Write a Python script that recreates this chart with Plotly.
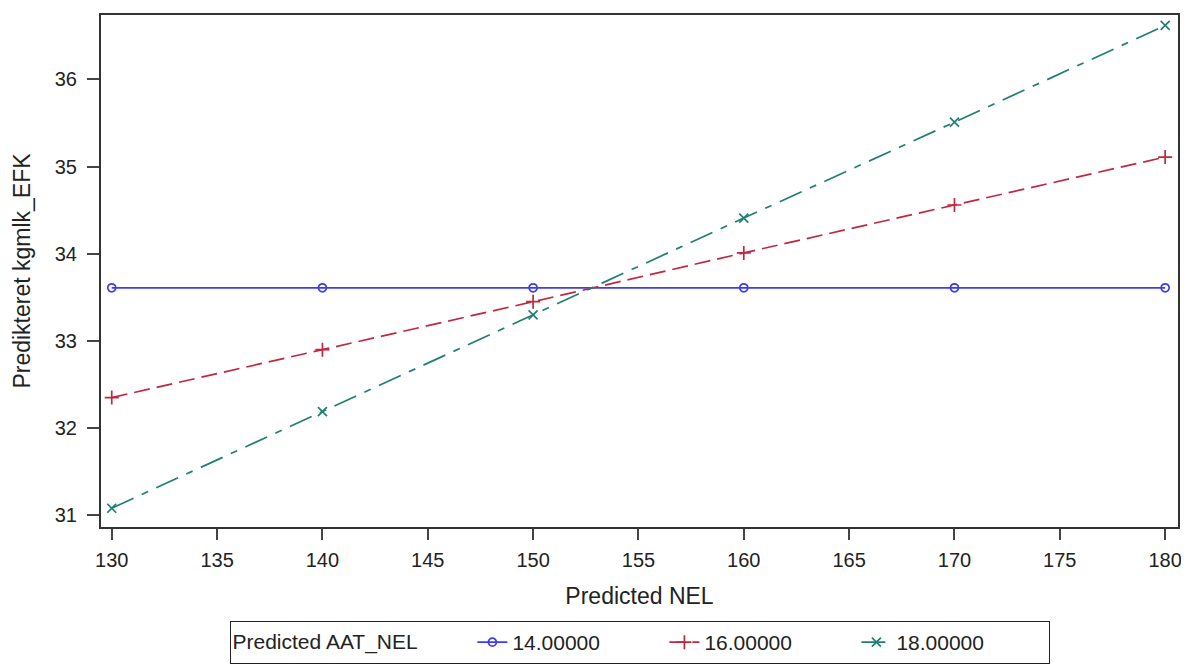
import plotly.graph_objects as go

nel = [130, 140, 150, 160, 170, 180]
aat_levels = ["14.00000", "16.00000", "18.00000"]
y_14 = [33.61, 33.61, 33.61, 33.61, 33.61, 33.61]
y_16 = [32.35, 32.90, 33.45, 34.01, 34.56, 35.11]
y_18 = [31.08, 32.19, 33.30, 34.41, 35.51, 36.62]

x_ticks = [130, 135, 140, 145, 150, 155, 160, 165, 170, 175, 180]
y_ticks = [31, 32, 33, 34, 35, 36]

series = [
    (aat_levels[0], y_14, "#3c3cf0", "solid", "circle-open", 8),
    (aat_levels[1], y_16, "#c0283f", "16px,7px", "cross-thin-open", 10),
    (aat_levels[2], y_18, "#1f7f72", "24px,9px,7px,9px", "x-thin-open", 9),
]

fig = go.Figure()
for name, ys, col, dash, sym, sz in series:
    fig.add_trace(go.Scatter(
        x=nel, y=ys, name=name, mode="lines+markers",
        line=dict(color=col, width=1.7, dash=dash),
        marker=dict(symbol=sym, size=sz, color=col, line=dict(color=col, width=1.7)),
    ))

font = "Liberation Sans, Arial, sans-serif"
fig.update_layout(
    width=1176, height=656,
    margin=dict(l=93, r=2, t=7, b=137),
    paper_bgcolor="white", plot_bgcolor="white",
    font=dict(family=font, size=20, color="#222"),
    showlegend=True,
    legend=dict(
        orientation="h", x=0.5, xanchor="center",
        yref="container", y=-0.025, yanchor="bottom",
        bordercolor="#222", borderwidth=1, bgcolor="white",
        title=dict(text="Predicted AAT_NEL" + "\u00a0" * 8, side="left", font=dict(size=21)),
        font=dict(size=21), entrywidth=147, entrywidthmode="pixels", tracegroupgap=0,
    ),
    xaxis=dict(
        range=[129.49, 180.61], tickvals=x_ticks, ticks="outside", ticklen=11,
        tickwidth=1.5, tickcolor="#444", showline=True, linecolor="#333", linewidth=2,
        mirror=True, showgrid=False, zeroline=False, ticklabelstandoff=3,
        title=dict(text="Predicted NEL", font=dict(size=23), standoff=18),
        tickfont=dict(size=20),
    ),
    yaxis=dict(
        range=[30.865, 36.74], tickvals=y_ticks, ticks="outside", ticklen=12,
        tickwidth=1.5, tickcolor="#444", showline=True, linecolor="#333", linewidth=2,
        mirror=True, showgrid=False, zeroline=False, ticklabelstandoff=6,
        title=dict(text="Predikteret kgmlk_EFK", font=dict(size=23), standoff=18),
        tickfont=dict(size=20),
    ),
)

fig.write_html("out.html")
